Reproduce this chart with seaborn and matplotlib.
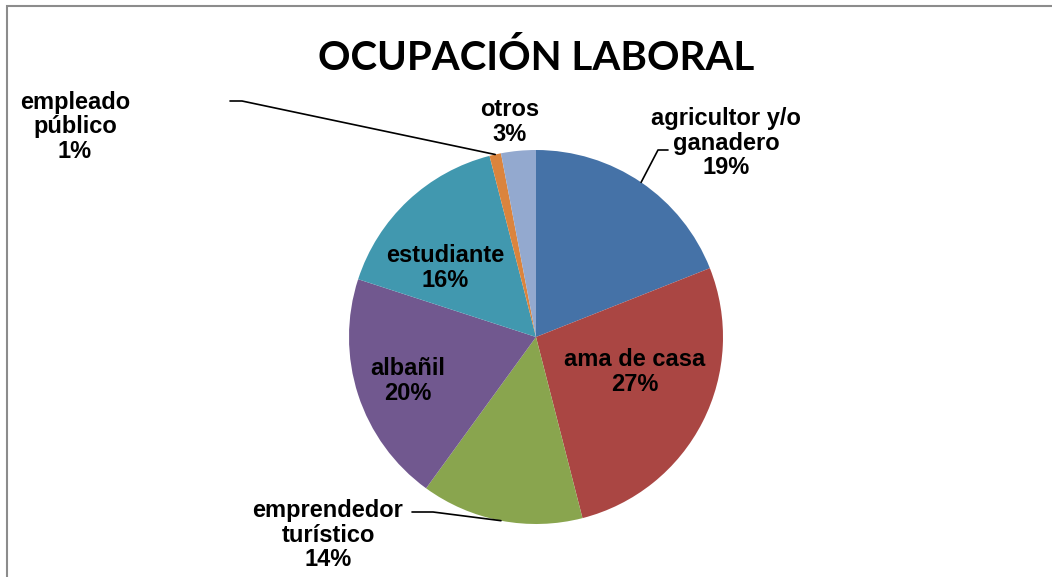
import numpy as np
import matplotlib.pyplot as plt
import matplotlib.patches as mpatches
import seaborn as sns

categorias = ['agricultor y/o\nganadero', 'ama de casa', 'emprendedor\nturístico',
              'albañil', 'estudiante', 'empleado\npúblico', 'otros']
porcentajes = [19, 27, 14, 20, 16, 1, 3]
colores = ['#4572A7', '#AA4643', '#89A54E', '#71588F', '#4198AF', '#DB843D', '#93A9CF']

sns.set_theme(style='white')
plt.rcParams['font.family'] = ['Liberation Sans', 'DejaVu Sans']
plt.rcParams['text.color'] = 'black'

W, H = 1052, 577
fig = plt.figure(figsize=(W / 100, H / 100), dpi=100)
fig.patch.set_facecolor('white')

# marco gris del gráfico (recortado a la derecha y abajo)
fig.add_artist(mpatches.Rectangle((7 / W, -0.1), 1.2, 1 - 6 / H + 0.1,
                                  transform=fig.transFigure, fill=False,
                                  edgecolor='#8c8c8c', linewidth=1.5))

# eje del pie: centro (536, 337) px, radio 187 px
cx, cy, r = 536, 337, 187
ax = fig.add_axes([(cx - r) / W, 1 - (cy + r) / H, 2 * r / W, 2 * r / H])

wedges, _ = ax.pie(porcentajes, colors=sns.color_palette(colores), startangle=90,
                   counterclock=False, radius=1, center=(0, 0),
                   wedgeprops=dict(linewidth=0))
ax.set_xlim(-1, 1)
ax.set_ylim(-1, 1)
ax.axis('off')

def px(x, y):
    return ((x - cx) / r, (cy - y) / r)

# posiciones de etiqueta (px) y codo de la línea guía
etiquetas = [
    dict(pos=(726, 143), codo=[(668, 150), (658, 150)]),
    dict(pos=(635, 372), codo=None),
    dict(pos=(328, 535), codo=[(412, 512), (433, 512)]),
    dict(pos=(408, 381), codo=None),
    dict(pos=(445, 268), codo=None),
    dict(pos=(75, 127), codo=[(230, 101), (242, 101)]),
    dict(pos=(510, 122), codo=None),
]

for w, cat, p, lab in zip(wedges, categorias, porcentajes, etiquetas):
    x, y = px(*lab['pos'])
    ax.text(x, y, f'{cat}\n{p}%', ha='center', va='center', fontsize=17,
            fontweight='bold', color='black', linespacing=1.1, clip_on=False)
    if lab['codo']:
        ang = np.deg2rad((w.theta1 + w.theta2) / 2)
        pts = [px(*c) for c in lab['codo']] + [(np.cos(ang), np.sin(ang))]
        xs, ys = zip(*pts)
        ax.plot(xs, ys, color='black', linewidth=1.2, clip_on=False)

fig.text(536 / W, 1 - 58 / H, 'OCUPACIÓN LABORAL', ha='center', va='center',
         fontsize=29, fontweight='bold', color='black', family=['Lato', 'DejaVu Sans'])

fig.savefig('out.png', dpi=100)
